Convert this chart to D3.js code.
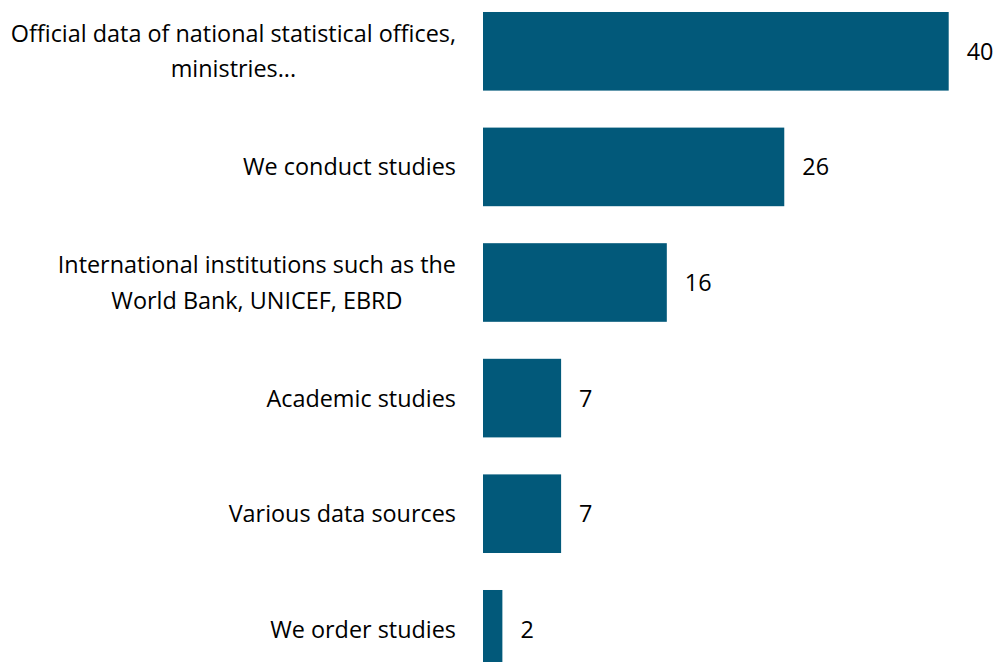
<!DOCTYPE html>
<html>
<head>
<meta charset="utf-8">
<script src="https://cdn.jsdelivr.net/npm/d3@7/dist/d3.min.js"></script>
<style>
  html, body { margin: 0; padding: 0; background: #ffffff; }
  svg { display: block; }
  text { font-family: "Open Sans", "Noto Sans", sans-serif; fill: #000; }
</style>
</head>
<body>
<svg id="chart" width="996" height="662"></svg>
<script>
// ---- data ----
const categories = [
  ["Official data of national statistical offices,", "ministries..."],
  ["We conduct studies"],
  ["International institutions such as the", "World Bank, UNICEF, EBRD"],
  ["Academic studies"],
  ["Various data sources"],
  ["We order studies"]
];
const values = [40, 26, 16, 7, 7, 2];
const axisMin = 0.35;
const axisMax = 40;

// ---- layout ----
const W = 996, H = 662;
const plotLeft = 483, plotRight = 948.7;
const plotTop = -6.5, plotBottom = 687.1;
const barColor = "#02597a";
const fontSize = 23.4;
const lineGap = 35.5;

const svg = d3.select("#chart");

const x = d3.scaleLinear().domain([axisMin, axisMax]).range([plotLeft, plotRight]);
const y = d3.scaleBand()
  .domain(d3.range(categories.length))
  .range([plotTop, plotBottom])
  .paddingInner(0.32)
  .paddingOuter(0.16);

const data = values.map((v, i) => ({ v, i, label: categories[i] }));

// bars
svg.append("g").selectAll("rect")
  .data(data)
  .join("rect")
  .attr("x", x(axisMin))
  .attr("y", d => y(d.i))
  .attr("width", d => x(d.v) - x(axisMin))
  .attr("height", y.bandwidth())
  .attr("fill", barColor);

// value labels
svg.append("g").selectAll("text")
  .data(data)
  .join("text")
  .attr("x", d => x(d.v) + 18)
  .attr("y", d => y(d.i) + y.bandwidth() / 2)
  .attr("dy", "0.36em")
  .attr("font-size", fontSize)
  .text(d => d.v);

// category labels (y axis without line/ticks); multi-line blocks are right-aligned, lines centred
const yAxis = d3.axisLeft(y).tickSize(0).tickPadding(0).tickFormat("");
const ag = svg.append("g").attr("transform", `translate(${plotLeft - 27},0)`).call(yAxis);
ag.select(".domain").remove();
ag.selectAll(".tick").each(function(i) {
  const lines = categories[i];
  const g = d3.select(this);
  const n = lines.length;
  const texts = lines.map((ln, k) => g.append("text")
    .attr("font-size", fontSize)
    .attr("y", (k - (n - 1) / 2) * lineGap)
    .attr("dy", "0.36em")
    .text(ln));
  const widths = texts.map(t => t.node().getComputedTextLength());
  const blockW = d3.max(widths);
  texts.forEach(t => t.attr("text-anchor", "middle").attr("x", -blockW / 2));
});
</script>
</body>
</html>
